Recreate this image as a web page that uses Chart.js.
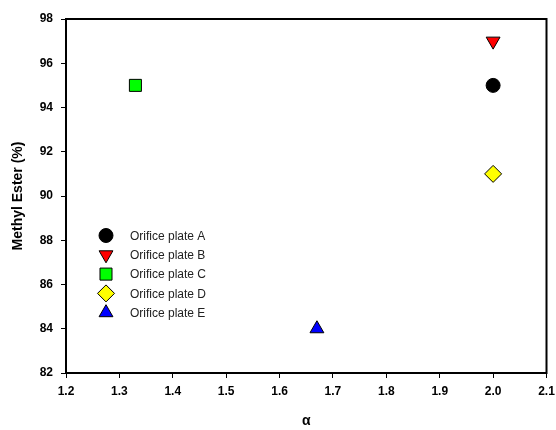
<!DOCTYPE html>
<html>
<head>
<meta charset="utf-8">
<script src="https://cdn.jsdelivr.net/npm/chart.js@4"></script>
<style>
  html, body { margin: 0; padding: 0; background: #fff; }
  #wrap { width: 556px; height: 430px; }
</style>
</head>
<body>
<div id="wrap"><canvas id="chart" width="556" height="430"></canvas></div>
<script>
// values
const plateLabels = ['Orifice plate A', 'Orifice plate B', 'Orifice plate C', 'Orifice plate D', 'Orifice plate E'];
const alphaValues = [2.0, 2.0, 1.33, 2.0, 1.67];
const esterValues = [95, 97, 95, 91, 84];
const xRange = [1.2, 2.1];
const yRange = [82, 98];

const markerStyles = ['circle', 'triangle', 'rect', 'rectRot', 'triangle'];
const markerRotations = [0, 180, 0, 0, 0];
const markerColors = ['#000000', '#ff0000', '#00ff00', '#ffff00', '#0000ff'];
const markerSizes = [7, 8, 8.5, 8.5, 8];

const FONT = "'Liberation Sans', Arial, sans-serif";

const datasets = plateLabels.map((label, i) => ({
    label: label,
    data: [{ x: alphaValues[i], y: esterValues[i] }],
    pointStyle: markerStyles[i],
    rotation: markerRotations[i],
    backgroundColor: markerColors[i],
    borderColor: '#000000',
    borderWidth: 1,
    pointRadius: markerSizes[i],
    pointHoverRadius: markerSizes[i]
}));

// frame around the plot + legend inside the plot area
const framePlugin = {
    id: 'frame',
    afterDraw(chart) {
        const { ctx, chartArea } = chart;
        ctx.save();
        ctx.strokeStyle = '#000';
        ctx.lineWidth = 2;
        ctx.strokeRect(chartArea.left, chartArea.top, chartArea.right - chartArea.left, chartArea.bottom - chartArea.top);

        const legendX = 106;
        const textX = 130;
        const startY = 235.5;
        const rowGap = 19.3;
        ctx.font = '12px ' + FONT;
        ctx.textBaseline = 'middle';
        ctx.textAlign = 'left';
        chart.data.datasets.forEach((ds, i) => {
            const y = startY + i * rowGap;
            ctx.fillStyle = ds.backgroundColor;
            ctx.strokeStyle = ds.borderColor;
            ctx.lineWidth = 1;
            Chart.helpers.drawPoint(ctx, {
                pointStyle: ds.pointStyle,
                rotation: ds.rotation,
                radius: ds.pointRadius,
                borderWidth: 1
            }, legendX, y);
            ctx.fillStyle = '#222';
            ctx.fillText(ds.label, textX, y + 1);
        });
        ctx.restore();
    }
};

new Chart(document.getElementById('chart'), {
    type: 'scatter',
    data: { datasets },
    options: {
        responsive: false,
        animation: false,
        layout: { padding: { top: 19, right: 8, left: 0, bottom: 0 } },
        plugins: {
            legend: { display: false },
            tooltip: { enabled: false }
        },
        scales: {
            x: {
                type: 'linear',
                min: xRange[0],
                max: xRange[1],
                afterFit: scale => {
                    scale.height = 57;
                    scale.paddingLeft = 0;
                    scale.paddingRight = 0;
                },
                ticks: {
                    stepSize: 0.1,
                    padding: 6,
                    color: '#000',
                    font: { family: FONT, size: 12, weight: 'bold' },
                    callback: v => Number(v).toFixed(1)
                },
                grid: {
                    drawOnChartArea: false,
                    drawTicks: true,
                    tickLength: 5,
                    color: '#000'
                },
                border: { color: '#000', width: 2 },
                title: {
                    display: true,
                    text: 'α',
                    color: '#000',
                    font: { family: FONT, size: 14, weight: 'bold' },
                    padding: { top: 0, bottom: 0 }
                }
            },
            y: {
                min: yRange[0],
                max: yRange[1],
                afterFit: scale => { scale.width = 66; },
                ticks: {
                    stepSize: 2,
                    padding: 8,
                    color: '#000',
                    font: { family: FONT, size: 12, weight: 'bold' }
                },
                grid: {
                    drawOnChartArea: false,
                    drawTicks: true,
                    tickLength: 5,
                    color: '#000'
                },
                border: { color: '#000', width: 2 },
                title: {
                    display: true,
                    text: 'Methyl Ester (%)',
                    color: '#000',
                    font: { family: FONT, size: 14, weight: 'bold' },
                    padding: { top: 10, bottom: 0 }
                }
            }
        }
    },
    plugins: [framePlugin]
});
</script>
</body>
</html>
